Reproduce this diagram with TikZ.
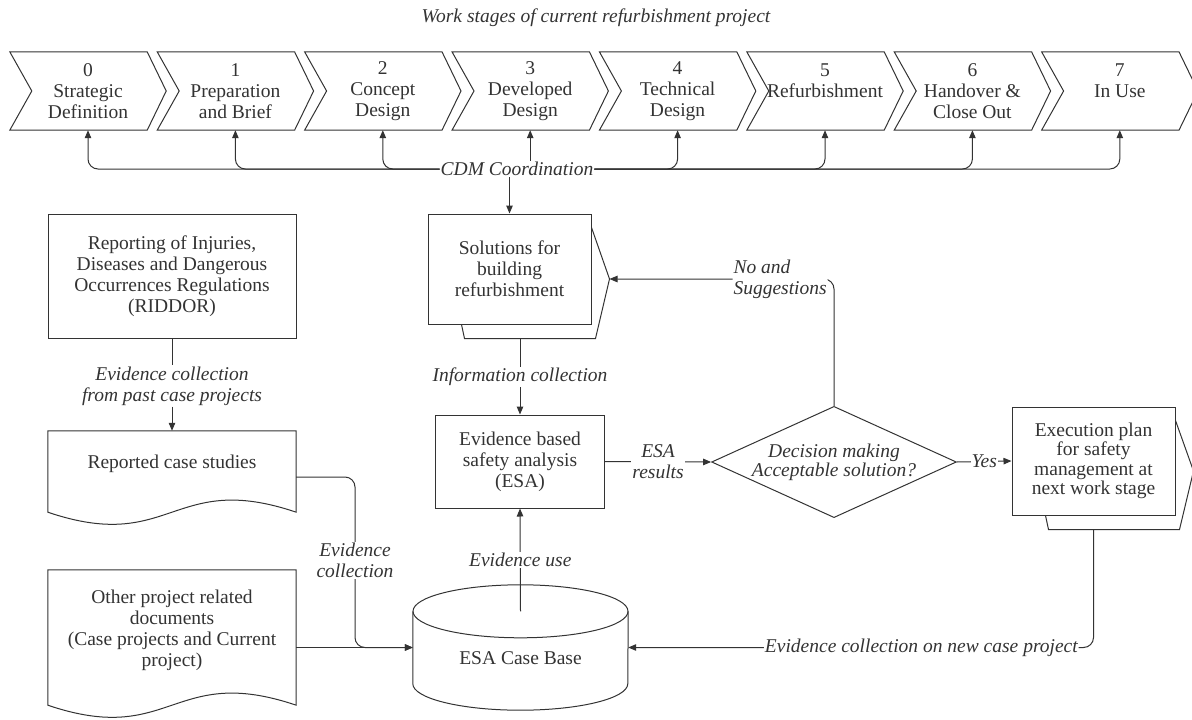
\documentclass[tikz,border=0pt]{standalone}
\usepackage{fontspec}
\setmainfont{Liberation Serif}
\usetikzlibrary{arrows.meta,shapes.geometric,calc}

\newcommand{\basefont}{\fontsize{19.5}{21}\selectfont}

% back sheet of a stacked box
\newcommand{\stackback}[1]{%
  \draw[line] ([yshift=-14pt]#1.north east) -- ([xshift=18pt,yshift=-10pt]#1.east)
    -- ([xshift=4pt,yshift=-14pt]#1.south east) -- ([xshift=37pt,yshift=-14pt]#1.south west)
    -- ([xshift=34pt]#1.south west);}

% document outline with wavy bottom
\newcommand{\docoutline}[1]{%
  \draw[line] (#1.north west) -- (#1.north east) -- ([yshift=-15pt]#1.south east)
    .. controls +(-124,-42) and +(124,42) .. ([yshift=-15pt]#1.south west) -- cycle;}

\tikzset{
  line/.style={draw=black!80, line width=1pt},
  arr/.style={line, -{Triangle[length=8pt,width=6.5pt]}},
  box/.style={line, rectangle, align=center, inner sep=0pt},
  stage/.style={minimum width=156pt, minimum height=78pt, align=center, inner sep=0pt},
  lbl/.style={font=\basefont\itshape, fill=white, inner sep=1pt, align=center},
  decision/.style={line, diamond, shape aspect=2.2, inner sep=0pt, align=center,
    font=\fontsize{19.5}{19}\selectfont\itshape},
}

\begin{document}
\begin{tikzpicture}[x=1pt, y=-1pt, font=\basefont, text=black!80]
  \useasboundingbox (0,0) rectangle (1192,720);

  \node[font=\basefont\itshape] (title) at (596,18) {Work stages of current refurbishment project};

  % work stages
  \foreach \t [count=\i from 0] in {{0\\Strategic\\Definition}, {1\\Preparation\\and Brief},
      {2\\Concept\\Design}, {3\\Developed\\Design}, {4\\Technical\\Design},
      {5\\Refurbishment\\\mbox{}}, {6\\Handover \&\\Close Out}, {7\\In Use\\\mbox{}}} {
    \node[stage] (s\i) at (88+147.4*\i,91) {\t};
    \draw[line] (s\i.north west) -- ([xshift=-19pt]s\i.north east) -- (s\i.east)
      -- ([xshift=-19pt]s\i.south east) -- (s\i.south west) -- ([xshift=22pt]s\i.west) -- cycle;
  }

  \node[lbl] (cdm) at (517,169) {CDM Coordination};
  \foreach \i in {0,1,2} \draw[arr, rounded corners=10pt] (cdm.west) -| (s\i.south);
  \foreach \i in {4,...,7} \draw[arr, rounded corners=10pt] (cdm.east) -| (s\i.south);
  \draw[arr] (cdm.north -| s3.south) -- (s3.south);

  % middle column
  \node[box, minimum width=163pt, minimum height=110pt] (sol) at (509.5,269) {Solutions for\\building\\refurbishment};
  \stackback{sol}
  \coordinate (soltip) at ([xshift=18pt,yshift=-10pt]sol.east);
  \draw[arr] (cdm.south -| sol.north) -- (sol.north);

  \node[lbl] (info) at (520,377) {Information collection};
  \node[box, minimum width=169pt, minimum height=93pt] (esa) at (520,461.5) {Evidence based\\safety analysis\\(ESA)};
  \draw[line] ([yshift=-14pt]sol.south -| info.north) -- (info.north);
  \draw[arr] (info.south) -- (esa.north);

  \node[minimum width=215pt, minimum height=125pt, inner sep=0pt] (db) at (520.5,647.5)
    {\raisebox{-17pt}[0pt][0pt]{ESA Case Base}};
  \draw[line] ([yshift=-26.5pt]db.north) ellipse [x radius=107.5pt, y radius=26.5pt];
  \draw[line] ([yshift=-26.5pt]db.north west) -- ([yshift=26.5pt]db.south west)
    arc[start angle=180, end angle=360, x radius=107.5pt, y radius=26.5pt] -- ([yshift=-26.5pt]db.north east);
  \draw[arr] ([yshift=-26.5pt]db.north) -- node[lbl]{Evidence use} (esa.south);

  % decision
  \node[decision] (dec) at (834,462) {Decision making\\Acceptable solution?};
  \node[box, font=\fontsize{19.5}{19.5}\selectfont, minimum width=163pt, minimum height=108pt] (exec) at (1093.5,461)
    {Execution plan\\for safety\\management at\\next work stage};
  \stackback{exec}
  \draw[arr] (esa.east) -- node[lbl]{ESA\\results} (dec.west);
  \draw[arr] (dec.east) -- node[lbl]{Yes} (exec.west);
  \draw[arr, rounded corners=10pt] (dec.north) |- node[lbl, pos=0.62, align=left]{No and\\Suggestions} (soltip);
  \draw[arr, rounded corners=10pt] ([yshift=-14pt]exec.south) |- node[lbl, pos=0.685]{Evidence collection on new case project} (db.east);

  % left column
  \node[box, minimum width=248pt, minimum height=124pt] (rid) at (172,276)
    {Reporting of Injuries,\\Diseases and Dangerous\\Occurrences Regulations\\(RIDDOR)};
  \node[lbl] (evpast) at (172,386) {Evidence collection\\from past case projects};
  \node[minimum width=248pt, minimum height=66pt, inner sep=0pt] (rep) at (172,464) {Reported case studies};
  \docoutline{rep}
  \node[minimum width=248pt, minimum height=120pt, inner sep=0pt, align=center] (oth) at (172,630)
    {Other project related\\documents\\(Case projects and Current\\project)};
  \docoutline{oth}
  \draw[line] (rid.south) -- (evpast.north);
  \draw[arr] (evpast.south) -- (rep.north);

  \coordinate (jn) at (355,647.5);
  \draw[arr, rounded corners=10pt] ([yshift=-13pt]rep.east) -| node[lbl, pos=0.745]{Evidence\\collection} (jn) -- (db.west);
  \draw[arr] (oth.east |- db.west) -- (db.west);
\end{tikzpicture}
\end{document}
